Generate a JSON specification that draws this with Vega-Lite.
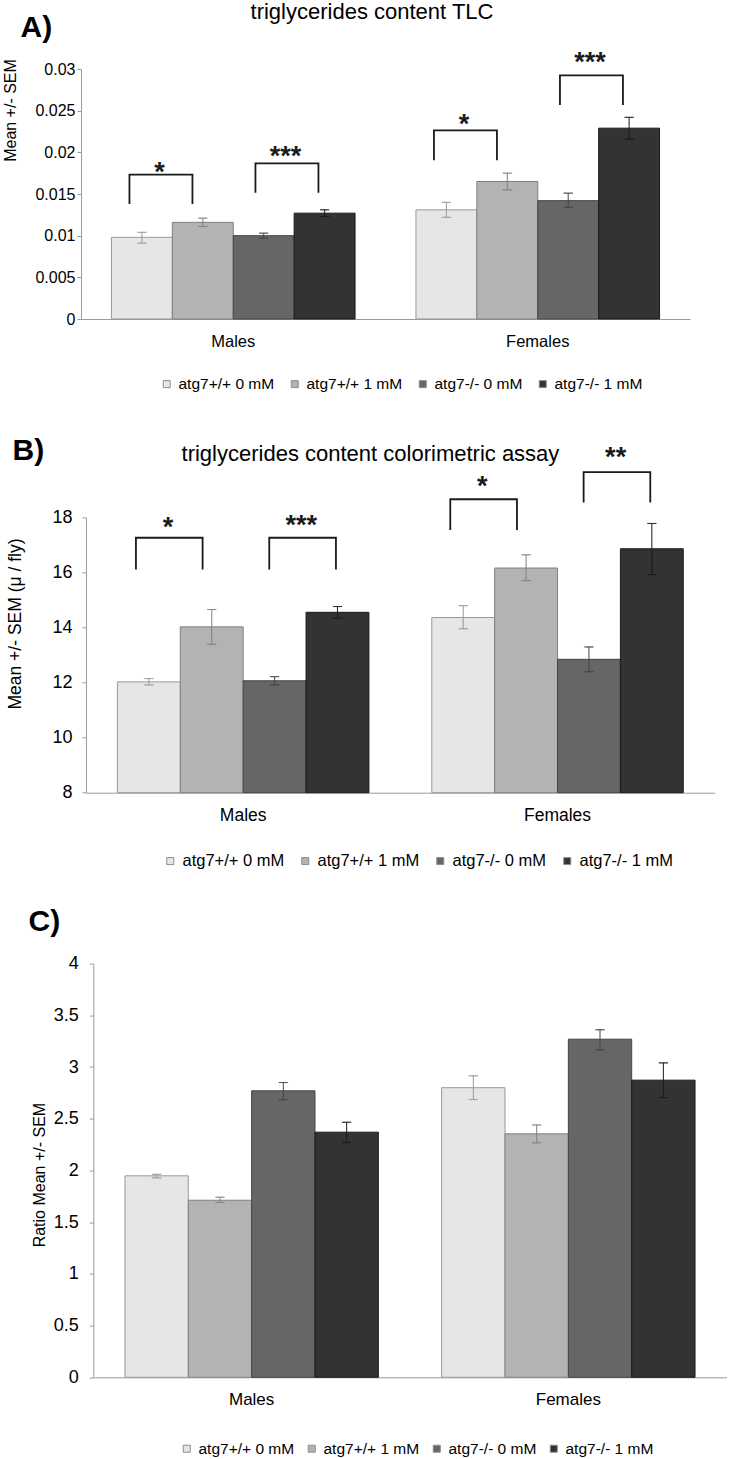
{
  "$schema": "https://vega.github.io/schema/vega-lite/v6.json",
  "padding": {"left": 2, "top": 1, "right": 0, "bottom": 0},
  "bounds": "flush",
  "spacing": 170.3,
  "config": {
    "font": "Liberation Sans",
    "view": {"stroke": null},
    "axis": {"grid": false, "domainColor": "#9a9a9a", "tickColor": "#9a9a9a", "labelColor": "#000000", "titleColor": "#000000", "titleFontWeight": "normal", "labelFont": "Liberation Sans", "titleFont": "Liberation Sans"},
    "legend": {"labelColor": "#000000", "labelFont": "Liberation Sans"},
    "title": {"font": "Liberation Sans", "fontWeight": "normal", "color": "#000000"}
  },
  "resolve": {"scale": {"color": "independent", "stroke": "independent"}, "legend": {"color": "independent"}},
  "datasets": {
    "barsA": [
      {"group": "Males", "series": "atg7+/+ 0 mM", "mean": 0.0098, "lo": 0.0091, "hi": 0.0104},
      {"group": "Males", "series": "atg7+/+ 1 mM", "mean": 0.0116, "lo": 0.0111, "hi": 0.0121},
      {"group": "Males", "series": "atg7-/- 0 mM", "mean": 0.0100, "lo": 0.0097, "hi": 0.0103},
      {"group": "Males", "series": "atg7-/- 1 mM", "mean": 0.0127, "lo": 0.0123, "hi": 0.0131},
      {"group": "Females", "series": "atg7+/+ 0 mM", "mean": 0.0131, "lo": 0.0122, "hi": 0.0140},
      {"group": "Females", "series": "atg7+/+ 1 mM", "mean": 0.0165, "lo": 0.0155, "hi": 0.0175},
      {"group": "Females", "series": "atg7-/- 0 mM", "mean": 0.0142, "lo": 0.0134, "hi": 0.0151},
      {"group": "Females", "series": "atg7-/- 1 mM", "mean": 0.0229, "lo": 0.0216, "hi": 0.0242}
    ],
    "brA": [
      {"bid": "AM1", "ord": 0, "group": "Males", "series": "atg7+/+ 0 mM", "y": 0.0138},
      {"bid": "AM1", "ord": 1, "group": "Males", "series": "atg7+/+ 0 mM", "y": 0.01732},
      {"bid": "AM1", "ord": 2, "group": "Males", "series": "atg7+/+ 1 mM", "y": 0.01732},
      {"bid": "AM1", "ord": 3, "group": "Males", "series": "atg7+/+ 1 mM", "y": 0.0138},
      {"bid": "AM2", "ord": 0, "group": "Males", "series": "atg7-/- 0 mM", "y": 0.01516},
      {"bid": "AM2", "ord": 1, "group": "Males", "series": "atg7-/- 0 mM", "y": 0.01868},
      {"bid": "AM2", "ord": 2, "group": "Males", "series": "atg7-/- 1 mM", "y": 0.01868},
      {"bid": "AM2", "ord": 3, "group": "Males", "series": "atg7-/- 1 mM", "y": 0.01516},
      {"bid": "AF1", "ord": 0, "group": "Females", "series": "atg7+/+ 0 mM", "y": 0.01904},
      {"bid": "AF1", "ord": 1, "group": "Females", "series": "atg7+/+ 0 mM", "y": 0.02264},
      {"bid": "AF1", "ord": 2, "group": "Females", "series": "atg7+/+ 1 mM", "y": 0.02264},
      {"bid": "AF1", "ord": 3, "group": "Females", "series": "atg7+/+ 1 mM", "y": 0.01904},
      {"bid": "AF2", "ord": 0, "group": "Females", "series": "atg7-/- 0 mM", "y": 0.02568},
      {"bid": "AF2", "ord": 1, "group": "Females", "series": "atg7-/- 0 mM", "y": 0.02924},
      {"bid": "AF2", "ord": 2, "group": "Females", "series": "atg7-/- 1 mM", "y": 0.02924},
      {"bid": "AF2", "ord": 3, "group": "Females", "series": "atg7-/- 1 mM", "y": 0.02568}
    ],
    "stA": [
      {"group": "Males", "series": "atg7+/+ 0 mM", "y": 0.01651, "label": "*"},
      {"group": "Males", "series": "atg7-/- 0 mM", "y": 0.01849, "label": "***"},
      {"group": "Females", "series": "atg7+/+ 0 mM", "y": 0.02233, "label": "*"},
      {"group": "Females", "series": "atg7-/- 0 mM", "y": 0.02977, "label": "***"}
    ],
    "barsB": [
      {"group": "Males", "series": "atg7+/+ 0 mM", "mean": 12.03, "lo": 11.92, "hi": 12.15},
      {"group": "Males", "series": "atg7+/+ 1 mM", "mean": 14.03, "lo": 13.40, "hi": 14.66},
      {"group": "Males", "series": "atg7-/- 0 mM", "mean": 12.07, "lo": 11.92, "hi": 12.22},
      {"group": "Males", "series": "atg7-/- 1 mM", "mean": 14.56, "lo": 14.35, "hi": 14.77},
      {"group": "Females", "series": "atg7+/+ 0 mM", "mean": 14.37, "lo": 13.96, "hi": 14.80},
      {"group": "Females", "series": "atg7+/+ 1 mM", "mean": 16.17, "lo": 15.71, "hi": 16.65},
      {"group": "Females", "series": "atg7-/- 0 mM", "mean": 12.85, "lo": 12.40, "hi": 13.30},
      {"group": "Females", "series": "atg7-/- 1 mM", "mean": 16.87, "lo": 15.93, "hi": 17.79}
    ],
    "brB": [
      {"bid": "BM1", "ord": 0, "group": "Males", "series": "atg7+/+ 0 mM", "y": 16.12},
      {"bid": "BM1", "ord": 1, "group": "Males", "series": "atg7+/+ 0 mM", "y": 17.27},
      {"bid": "BM1", "ord": 2, "group": "Males", "series": "atg7+/+ 1 mM", "y": 17.27},
      {"bid": "BM1", "ord": 3, "group": "Males", "series": "atg7+/+ 1 mM", "y": 16.12},
      {"bid": "BM2", "ord": 0, "group": "Males", "series": "atg7-/- 0 mM", "y": 16.12},
      {"bid": "BM2", "ord": 1, "group": "Males", "series": "atg7-/- 0 mM", "y": 17.27},
      {"bid": "BM2", "ord": 2, "group": "Males", "series": "atg7-/- 1 mM", "y": 17.27},
      {"bid": "BM2", "ord": 3, "group": "Males", "series": "atg7-/- 1 mM", "y": 16.12},
      {"bid": "BF1", "ord": 0, "group": "Females", "series": "atg7+/+ 0 mM", "y": 17.55},
      {"bid": "BF1", "ord": 1, "group": "Females", "series": "atg7+/+ 0 mM", "y": 18.67},
      {"bid": "BF1", "ord": 2, "group": "Females", "series": "atg7+/+ 1 mM", "y": 18.67},
      {"bid": "BF1", "ord": 3, "group": "Females", "series": "atg7+/+ 1 mM", "y": 17.55},
      {"bid": "BF2", "ord": 0, "group": "Females", "series": "atg7-/- 0 mM", "y": 18.55},
      {"bid": "BF2", "ord": 1, "group": "Females", "series": "atg7-/- 0 mM", "y": 19.66},
      {"bid": "BF2", "ord": 2, "group": "Females", "series": "atg7-/- 1 mM", "y": 19.66},
      {"bid": "BF2", "ord": 3, "group": "Females", "series": "atg7-/- 1 mM", "y": 18.55}
    ],
    "stB": [
      {"group": "Males", "series": "atg7+/+ 0 mM", "y": 17.32, "label": "*"},
      {"group": "Males", "series": "atg7-/- 0 mM", "y": 17.41, "label": "***"},
      {"group": "Females", "series": "atg7+/+ 0 mM", "y": 18.81, "label": "*"},
      {"group": "Females", "series": "atg7-/- 0 mM", "y": 19.88, "label": "**"}
    ],
    "barsC": [
      {"group": "Males", "series": "atg7+/+ 0 mM", "mean": 1.948, "lo": 1.928, "hi": 1.963},
      {"group": "Males", "series": "atg7+/+ 1 mM", "mean": 1.712, "lo": 1.69, "hi": 1.741},
      {"group": "Males", "series": "atg7-/- 0 mM", "mean": 2.77, "lo": 2.683, "hi": 2.85},
      {"group": "Males", "series": "atg7-/- 1 mM", "mean": 2.37, "lo": 2.27, "hi": 2.466},
      {"group": "Females", "series": "atg7+/+ 0 mM", "mean": 2.80, "lo": 2.686, "hi": 2.915},
      {"group": "Females", "series": "atg7+/+ 1 mM", "mean": 2.354, "lo": 2.267, "hi": 2.44},
      {"group": "Females", "series": "atg7-/- 0 mM", "mean": 3.269, "lo": 3.166, "hi": 3.36},
      {"group": "Females", "series": "atg7-/- 1 mM", "mean": 2.873, "lo": 2.705, "hi": 3.04}
    ]
  },
  "vconcat": [
    {
      "width": 609,
      "height": 250,
      "title": {"text": "triglycerides content TLC", "fontSize": 22, "anchor": "middle", "frame": "group", "dx": -13.5, "baseline": "alphabetic", "offset": -28.5},
      "resolve": {"scale": {"xOffset": "independent"}},
      "encoding": {
        "x": {"field": "group", "type": "nominal", "sort": ["Males", "Females"], "title": "A)",
          "scale": {"paddingInner": 0.2, "paddingOuter": 0.1},
          "axis": {"labelAngle": 0, "ticks": false, "tickSize": 0, "labelPadding": 14, "labelFontSize": 16.5, "titleX": -61, "titleY": -282.5, "titleAlign": "left", "titleBaseline": "alphabetic", "titleAngle": 0, "titleFontSize": 30, "titleFontWeight": "bold"}},
        "xOffset": {"field": "series", "type": "nominal", "sort": ["atg7+/+ 0 mM", "atg7+/+ 1 mM", "atg7-/- 0 mM", "atg7-/- 1 mM"], "scale": {"paddingInner": 0, "paddingOuter": 0}}
      },
      "layer": [
        {
          "data": {"name": "barsA"},
          "mark": {"type": "bar", "strokeWidth": 1},
          "encoding": {
            "y": {"field": "mean", "type": "quantitative", "title": "Mean +/- SEM", "scale": {"domain": [0, 0.03], "nice": false},
              "axis": {"values": [0, 0.005, 0.01, 0.015, 0.02, 0.025, 0.03], "format": "~g", "labelFontSize": 16, "tickSize": 4, "labelPadding": 2, "titleFontSize": 16, "titleX": -62.9, "titleY": 41, "titleAngle": 270, "titleAlign": "center", "titleBaseline": "bottom"}},
            "color": {"field": "series", "type": "nominal", "sort": ["atg7+/+ 0 mM", "atg7+/+ 1 mM", "atg7-/- 0 mM", "atg7-/- 1 mM"], "scale": {"range": ["#e6e6e6", "#b3b3b3", "#666666", "#333333"]},
              "legend": {"title": null, "orient": "none", "legendX": 78, "legendY": 307, "direction": "horizontal", "columns": 4, "symbolType": "square", "symbolSize": 49, "labelFontSize": 15.5, "labelOffset": 4, "columnPadding": 12,
                "encode": {"symbols": {"update": {"stroke": {"value": "#8c8c8c"}, "strokeWidth": {"value": 1}}}}}},
            "stroke": {"field": "series", "type": "nominal", "sort": ["atg7+/+ 0 mM", "atg7+/+ 1 mM", "atg7-/- 0 mM", "atg7-/- 1 mM"], "scale": {"range": ["#999999", "#808080", "#444444", "#1a1a1a"]}, "legend": null}
          }
        },
        {
          "data": {"name": "barsA"},
          "mark": {"type": "rule", "strokeWidth": 1},
          "encoding": {
            "y": {"field": "lo", "type": "quantitative", "title": "Mean +/- SEM", "scale": {"domain": [0, 0.03], "nice": false}},
            "y2": {"field": "hi"},
            "stroke": {"field": "series", "type": "nominal", "legend": null}
          }
        },
        {
          "data": {"name": "barsA"},
          "mark": {"type": "tick", "size": 9, "thickness": 0.1, "filled": false, "strokeWidth": 1},
          "encoding": {
            "y": {"field": "lo", "type": "quantitative", "title": "Mean +/- SEM", "scale": {"domain": [0, 0.03], "nice": false}},
            "stroke": {"field": "series", "type": "nominal", "legend": null}
          }
        },
        {
          "data": {"name": "barsA"},
          "mark": {"type": "tick", "size": 9, "thickness": 0.1, "filled": false, "strokeWidth": 1},
          "encoding": {
            "y": {"field": "hi", "type": "quantitative", "title": "Mean +/- SEM", "scale": {"domain": [0, 0.03], "nice": false}},
            "stroke": {"field": "series", "type": "nominal", "legend": null}
          }
        },
        {
          "data": {"name": "brA"},
          "mark": {"type": "line", "color": "#1a1a1a", "strokeWidth": 1.8},
          "encoding": {
            "xOffset": {"field": "series", "type": "nominal", "sort": ["atg7+/+ 0 mM", "atg7+/+ 1 mM", "atg7-/- 0 mM", "atg7-/- 1 mM"], "scale": {"type": "point", "domain": ["atg7+/+ 0 mM", "atg7+/+ 1 mM", "atg7-/- 0 mM", "atg7-/- 1 mM"], "range": [18, 207], "padding": 0}},
            "y": {"field": "y", "type": "quantitative", "title": "Mean +/- SEM", "scale": {"domain": [0, 0.03], "nice": false}},
            "detail": {"field": "bid"},
            "order": {"field": "ord", "type": "quantitative"}
          }
        },
        {
          "data": {"name": "stA"},
          "mark": {"type": "text", "fontSize": 27, "fontWeight": "bold", "baseline": "alphabetic", "align": "center", "dx": 30, "color": "#1a1a1a"},
          "encoding": {
            "xOffset": {"field": "series", "type": "nominal", "sort": ["atg7+/+ 0 mM", "atg7+/+ 1 mM", "atg7-/- 0 mM", "atg7-/- 1 mM"], "scale": {"type": "point", "domain": ["atg7+/+ 0 mM", "atg7+/+ 1 mM", "atg7-/- 0 mM", "atg7-/- 1 mM"], "range": [18, 207], "padding": 0}},
            "y": {"field": "y", "type": "quantitative", "title": "Mean +/- SEM", "scale": {"domain": [0, 0.03], "nice": false}},
            "text": {"field": "label"}
          }
        }
      ]
    },
    {
      "width": 633.7,
      "height": 303.4,
      "title": {"text": "triglycerides content colorimetric assay", "fontSize": 22, "anchor": "middle", "frame": "group", "dx": -27.4, "baseline": "alphabetic", "offset": -47},
      "resolve": {"scale": {"xOffset": "independent"}},
      "encoding": {
        "x": {"field": "group", "type": "nominal", "sort": ["Males", "Females"], "title": "B)",
          "scale": {"range": [5, 633.7], "paddingInner": 0.2, "paddingOuter": 0.1},
          "axis": {"labelAngle": 0, "ticks": false, "tickSize": 0, "labelPadding": 14, "labelFontSize": 17.5, "titleX": -69, "titleY": -332.7, "titleAlign": "left", "titleBaseline": "alphabetic", "titleAngle": 0, "titleFontSize": 30, "titleFontWeight": "bold"}},
        "xOffset": {"field": "series", "type": "nominal", "sort": ["atg7+/+ 0 mM", "atg7+/+ 1 mM", "atg7-/- 0 mM", "atg7-/- 1 mM"], "scale": {"paddingInner": 0, "paddingOuter": 0}}
      },
      "layer": [
        {
          "data": {"name": "barsB"},
          "mark": {"type": "bar", "strokeWidth": 1},
          "encoding": {
            "y": {"field": "mean", "type": "quantitative", "title": "Mean +/- SEM (μ / fly)", "scale": {"domain": [8, 18], "nice": false, "zero": false, "range": [303.4, 28.4]},
              "axis": {"offset": -5, "values": [8, 10, 12, 14, 16, 18], "labelFontSize": 18, "tickSize": 4, "labelPadding": 10, "titleFontSize": 17.5, "titleX": -61.1, "titleY": 134.2, "titleAngle": 270, "titleAlign": "center", "titleBaseline": "bottom"}},
            "y2": {"datum": 8},
            "color": {"field": "series", "type": "nominal", "sort": ["atg7+/+ 0 mM", "atg7+/+ 1 mM", "atg7-/- 0 mM", "atg7-/- 1 mM"], "scale": {"range": ["#e6e6e6", "#b3b3b3", "#666666", "#333333"]},
              "legend": {"title": null, "orient": "none", "legendX": 81, "legendY": 363.4, "direction": "horizontal", "columns": 4, "symbolType": "square", "symbolSize": 49, "labelFontSize": 16.5, "labelOffset": 4, "columnPadding": 12,
                "encode": {"symbols": {"update": {"stroke": {"value": "#8c8c8c"}, "strokeWidth": {"value": 1}}}}}},
            "stroke": {"field": "series", "type": "nominal", "sort": ["atg7+/+ 0 mM", "atg7+/+ 1 mM", "atg7-/- 0 mM", "atg7-/- 1 mM"], "scale": {"range": ["#999999", "#808080", "#444444", "#1a1a1a"]}, "legend": null}
          }
        },
        {
          "data": {"name": "barsB"},
          "mark": {"type": "rule", "strokeWidth": 1},
          "encoding": {
            "y": {"field": "lo", "type": "quantitative", "title": "Mean +/- SEM (μ / fly)", "scale": {"domain": [8, 18], "nice": false, "zero": false, "range": [303.4, 28.4]}},
            "y2": {"field": "hi"},
            "stroke": {"field": "series", "type": "nominal", "legend": null}
          }
        },
        {
          "data": {"name": "barsB"},
          "mark": {"type": "tick", "size": 9, "thickness": 0.1, "filled": false, "strokeWidth": 1},
          "encoding": {
            "y": {"field": "lo", "type": "quantitative", "title": "Mean +/- SEM (μ / fly)", "scale": {"domain": [8, 18], "nice": false, "zero": false, "range": [303.4, 28.4]}},
            "stroke": {"field": "series", "type": "nominal", "legend": null}
          }
        },
        {
          "data": {"name": "barsB"},
          "mark": {"type": "tick", "size": 9, "thickness": 0.1, "filled": false, "strokeWidth": 1},
          "encoding": {
            "y": {"field": "hi", "type": "quantitative", "title": "Mean +/- SEM (μ / fly)", "scale": {"domain": [8, 18], "nice": false, "zero": false, "range": [303.4, 28.4]}},
            "stroke": {"field": "series", "type": "nominal", "legend": null}
          }
        },
        {
          "data": {"name": "brB"},
          "mark": {"type": "line", "color": "#1a1a1a", "strokeWidth": 1.8},
          "encoding": {
            "xOffset": {"field": "series", "type": "nominal", "sort": ["atg7+/+ 0 mM", "atg7+/+ 1 mM", "atg7-/- 0 mM", "atg7-/- 1 mM"], "scale": {"type": "point", "domain": ["atg7+/+ 0 mM", "atg7+/+ 1 mM", "atg7-/- 0 mM", "atg7-/- 1 mM"], "range": [18.5, 218.5], "padding": 0}},
            "y": {"field": "y", "type": "quantitative", "title": "Mean +/- SEM (μ / fly)", "scale": {"domain": [8, 18], "nice": false, "zero": false, "range": [303.4, 28.4]}},
            "detail": {"field": "bid"},
            "order": {"field": "ord", "type": "quantitative"}
          }
        },
        {
          "data": {"name": "stB"},
          "mark": {"type": "text", "fontSize": 27, "fontWeight": "bold", "baseline": "alphabetic", "align": "center", "dx": 32, "color": "#1a1a1a"},
          "encoding": {
            "xOffset": {"field": "series", "type": "nominal", "sort": ["atg7+/+ 0 mM", "atg7+/+ 1 mM", "atg7-/- 0 mM", "atg7-/- 1 mM"], "scale": {"type": "point", "domain": ["atg7+/+ 0 mM", "atg7+/+ 1 mM", "atg7-/- 0 mM", "atg7-/- 1 mM"], "range": [18.5, 218.5], "padding": 0}},
            "y": {"field": "y", "type": "quantitative", "title": "Mean +/- SEM (μ / fly)", "scale": {"domain": [8, 18], "nice": false, "zero": false, "range": [303.4, 28.4]}},
            "text": {"field": "label"}
          }
        }
      ]
    },
    {
      "width": 645.7,
      "height": 413.7,
      "encoding": {
        "x": {"field": "group", "type": "nominal", "sort": ["Males", "Females"], "title": "C)",
          "scale": {"range": [12.3, 645.7], "paddingInner": 0.2, "paddingOuter": 0.1},
          "axis": {"labelAngle": 0, "ticks": false, "tickSize": 0, "labelPadding": 14, "labelFontSize": 17, "titleX": -53, "titleY": -446.7, "titleAlign": "left", "titleBaseline": "alphabetic", "titleAngle": 0, "titleFontSize": 30, "titleFontWeight": "bold"}},
        "xOffset": {"field": "series", "type": "nominal", "sort": ["atg7+/+ 0 mM", "atg7+/+ 1 mM", "atg7-/- 0 mM", "atg7-/- 1 mM"], "scale": {"paddingInner": 0, "paddingOuter": 0}}
      },
      "layer": [
        {
          "data": {"name": "barsC"},
          "mark": {"type": "bar", "strokeWidth": 1},
          "encoding": {
            "y": {"field": "mean", "type": "quantitative", "title": "Ratio Mean +/- SEM", "scale": {"domain": [0, 4], "nice": false},
              "axis": {"offset": -12.3, "values": [0, 0.5, 1, 1.5, 2, 2.5, 3, 3.5, 4], "format": "~g", "labelFontSize": 18, "tickSize": 4, "labelPadding": 11, "titleFontSize": 16, "titleX": -46.2, "titleY": 211, "titleAngle": 270, "titleAlign": "center", "titleBaseline": "bottom"}},
            "color": {"field": "series", "type": "nominal", "sort": ["atg7+/+ 0 mM", "atg7+/+ 1 mM", "atg7-/- 0 mM", "atg7-/- 1 mM"], "scale": {"range": ["#e6e6e6", "#b3b3b3", "#666666", "#333333"]},
              "legend": {"title": null, "orient": "none", "legendX": 98, "legendY": 477, "direction": "horizontal", "columns": 4, "symbolType": "square", "symbolSize": 49, "labelFontSize": 15.5, "labelOffset": 4, "columnPadding": 9,
                "encode": {"symbols": {"update": {"stroke": {"value": "#8c8c8c"}, "strokeWidth": {"value": 1}}}}}},
            "stroke": {"field": "series", "type": "nominal", "sort": ["atg7+/+ 0 mM", "atg7+/+ 1 mM", "atg7-/- 0 mM", "atg7-/- 1 mM"], "scale": {"range": ["#999999", "#808080", "#444444", "#1a1a1a"]}, "legend": null}
          }
        },
        {
          "data": {"name": "barsC"},
          "mark": {"type": "rule", "strokeWidth": 1},
          "encoding": {
            "y": {"field": "lo", "type": "quantitative", "title": "Ratio Mean +/- SEM", "scale": {"domain": [0, 4], "nice": false}},
            "y2": {"field": "hi"},
            "stroke": {"field": "series", "type": "nominal", "legend": null}
          }
        },
        {
          "data": {"name": "barsC"},
          "mark": {"type": "tick", "size": 9, "thickness": 0.1, "filled": false, "strokeWidth": 1},
          "encoding": {
            "y": {"field": "lo", "type": "quantitative", "title": "Ratio Mean +/- SEM", "scale": {"domain": [0, 4], "nice": false}},
            "stroke": {"field": "series", "type": "nominal", "legend": null}
          }
        },
        {
          "data": {"name": "barsC"},
          "mark": {"type": "tick", "size": 9, "thickness": 0.1, "filled": false, "strokeWidth": 1},
          "encoding": {
            "y": {"field": "hi", "type": "quantitative", "title": "Ratio Mean +/- SEM", "scale": {"domain": [0, 4], "nice": false}},
            "stroke": {"field": "series", "type": "nominal", "legend": null}
          }
        }
      ]
    }
  ]
}
